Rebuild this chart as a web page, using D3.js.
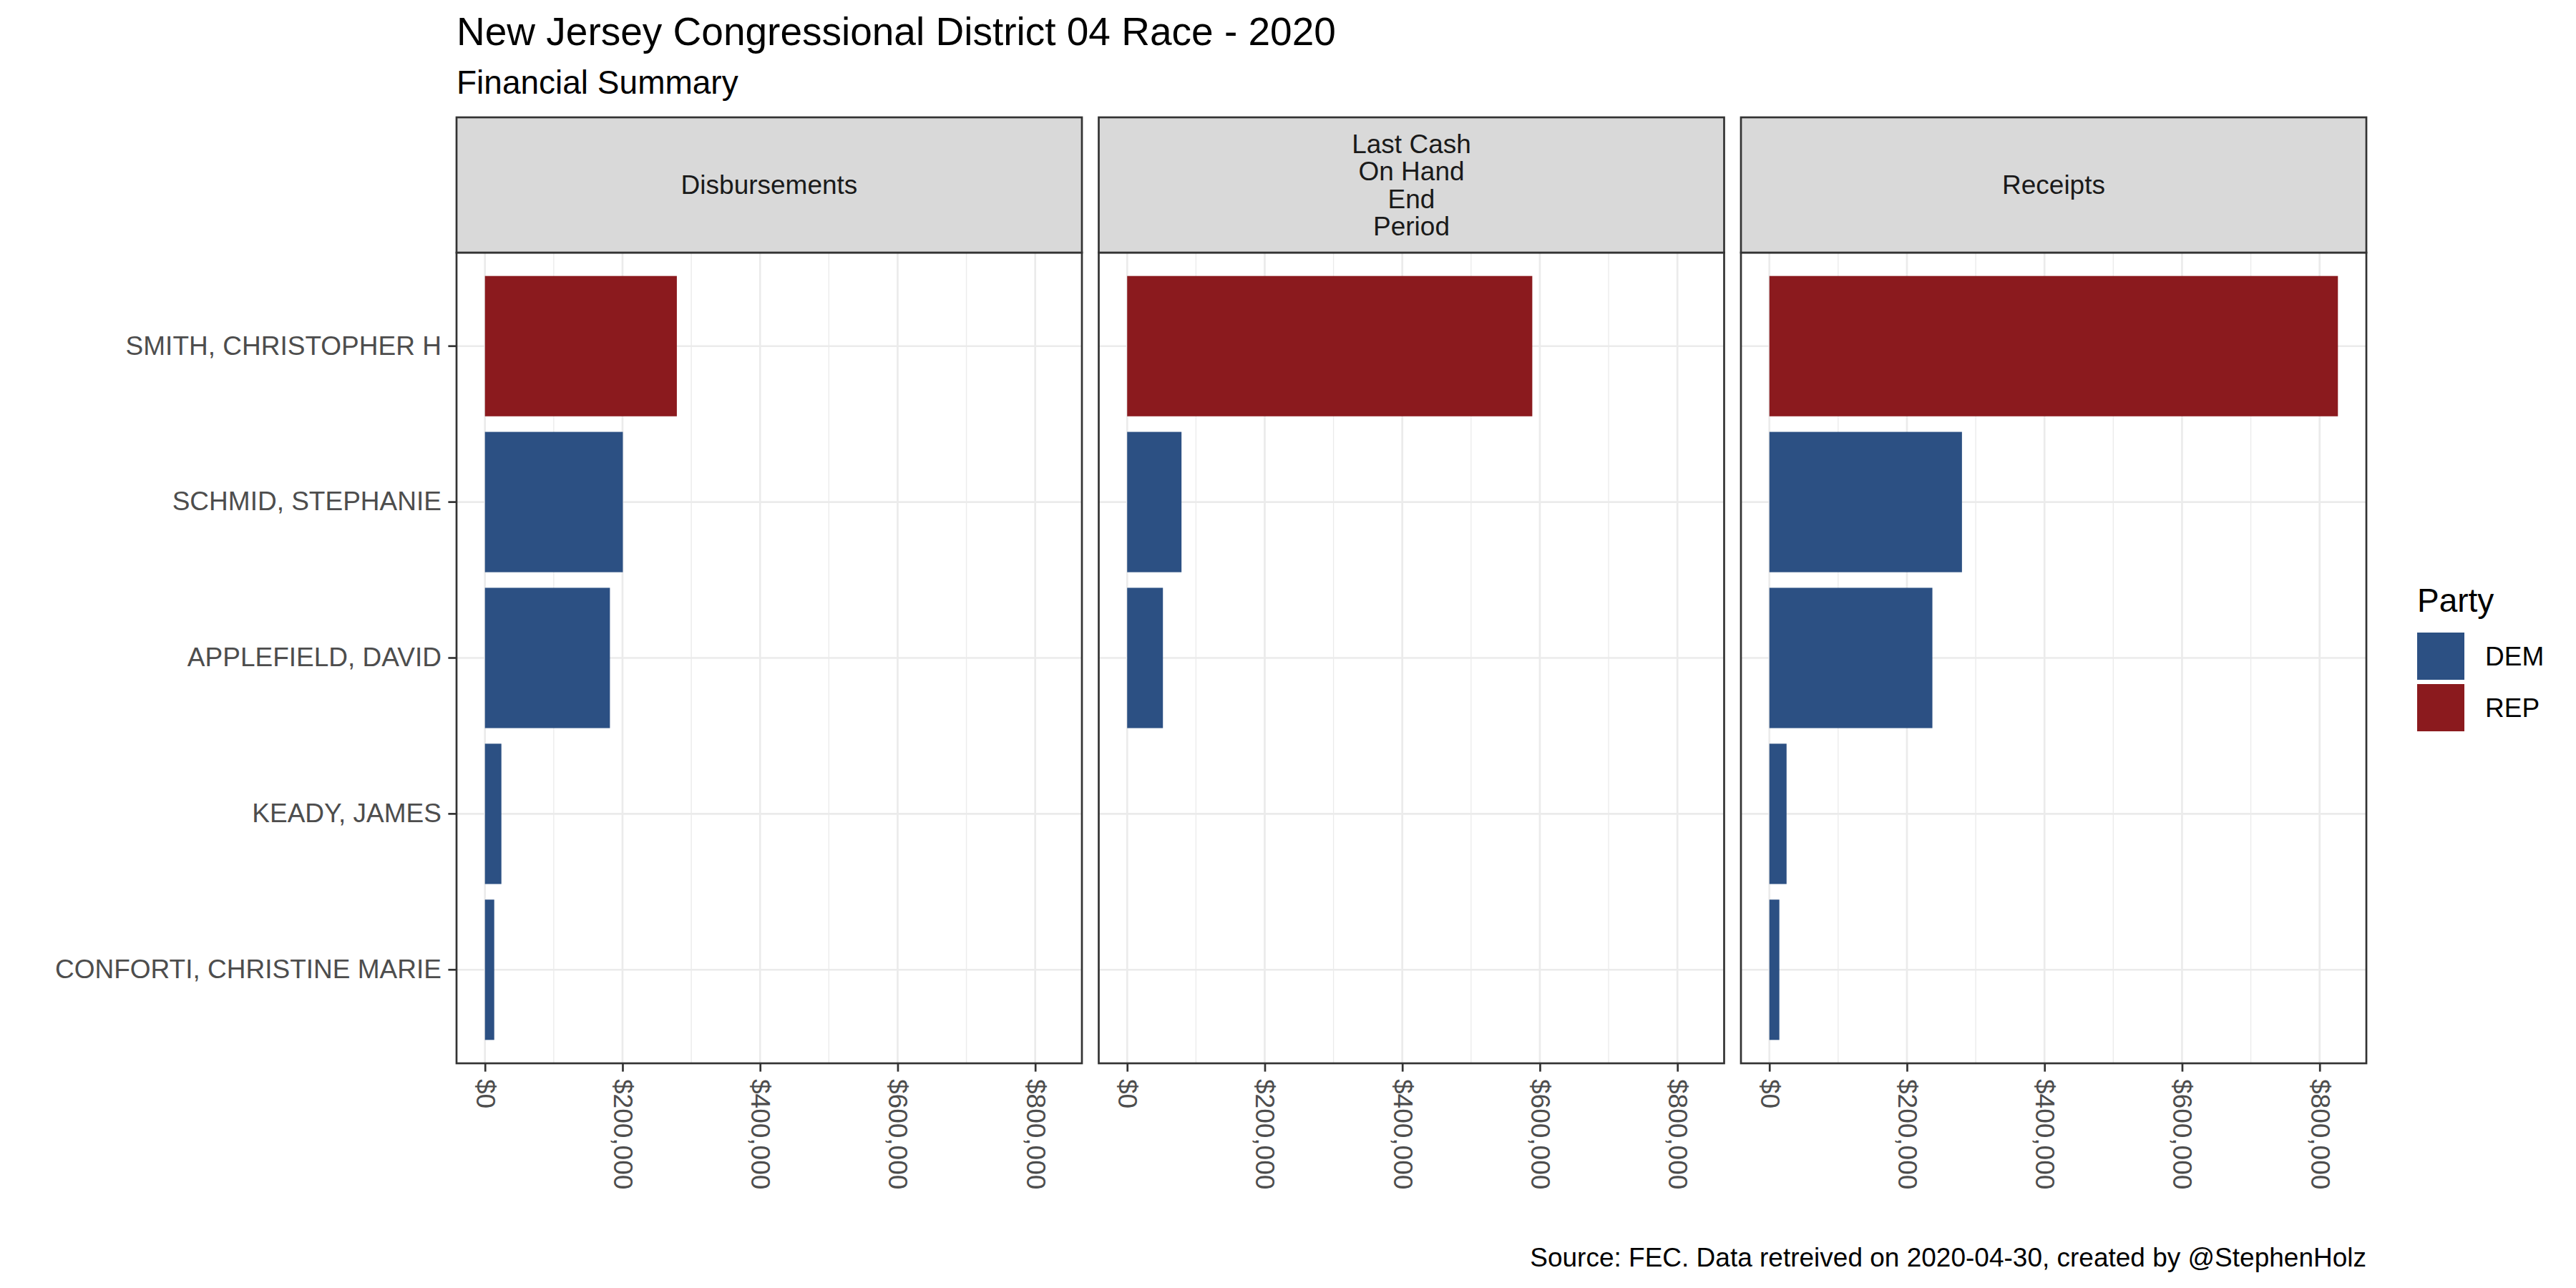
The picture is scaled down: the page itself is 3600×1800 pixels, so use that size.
<!DOCTYPE html>
<html>
<head>
<meta charset="utf-8">
<script src="https://cdn.jsdelivr.net/npm/d3@7"></script>
<style>
  body { margin: 0; background: #fff; }
  text { font-family: "Liberation Sans", Arial, sans-serif; }
</style>
</head>
<body>
<svg id="chart"></svg>
<script>
// data
const candidates = ["SMITH, CHRISTOPHER H", "SCHMID, STEPHANIE", "APPLEFIELD, DAVID", "KEADY, JAMES", "CONFORTI, CHRISTINE MARIE"];
const candidateParty = ["REP", "DEM", "DEM", "DEM", "DEM"];
const facetLabels = ["Disbursements", "Last Cash\nOn Hand\nEnd\nPeriod", "Receipts"];
const disbursements = [279000, 200500, 181700, 23900, 13500];
const cashOnHand = [589000, 79000, 52000, 0, 0];
const receipts = [826600, 280000, 237000, 25000, 14500];
const xTicks = [0, 200000, 400000, 600000, 800000];
const xMinorTicks = [100000, 300000, 500000, 700000];
const parties = ["DEM", "REP"];
const partyColors = ["#2C5083", "#8B1A1E"];

const width = 3600, height = 1800;
const svg = d3.select("#chart").attr("width", width).attr("height", height);

const panelLeft = 638, panelW = 874, panelGap = 23.5;
const stripTop = 164, stripBottom = 353, panelBottom = 1486;
const lineW = 2.7, tickLen = 11.6;
const grid = "#EBEBEB", dark = "#333333";

const facetValues = [disbursements, cashOnHand, receipts];
const maxVal = d3.max(facetValues.flat());

const x = d3.scaleLinear()
    .domain([-0.05 * maxVal, 1.05 * maxVal])
    .range([0, panelW]);

const y = d3.scaleBand()
    .domain(candidates)
    .range([stripBottom, panelBottom])
    .paddingInner(0.1)
    .paddingOuter(0.15);

const color = d3.scaleOrdinal().domain(parties).range(partyColors);

facetValues.forEach((vals, i) => {
  const g = svg.append("g")
      .attr("transform", `translate(${panelLeft + i * (panelW + panelGap)},0)`);

  // gridlines
  g.selectAll(".minor").data(xMinorTicks).enter().append("line")
      .attr("x1", d => x(d)).attr("x2", d => x(d))
      .attr("y1", stripBottom).attr("y2", panelBottom)
      .attr("stroke", grid).attr("stroke-width", lineW / 2);
  g.selectAll(".major").data(xTicks).enter().append("line")
      .attr("x1", d => x(d)).attr("x2", d => x(d))
      .attr("y1", stripBottom).attr("y2", panelBottom)
      .attr("stroke", grid).attr("stroke-width", lineW);
  g.selectAll(".hgrid").data(candidates).enter().append("line")
      .attr("x1", 0).attr("x2", panelW)
      .attr("y1", d => y(d) + y.bandwidth() / 2).attr("y2", d => y(d) + y.bandwidth() / 2)
      .attr("stroke", grid).attr("stroke-width", lineW);

  // bars
  g.selectAll(".bar").data(candidates).enter().append("rect")
      .attr("x", x(0))
      .attr("y", d => y(d))
      .attr("width", (d, j) => x(vals[j]) - x(0))
      .attr("height", y.bandwidth())
      .attr("fill", (d, j) => color(candidateParty[j]));

  // panel border
  g.append("rect")
      .attr("x", 0).attr("y", stripBottom)
      .attr("width", panelW).attr("height", panelBottom - stripBottom)
      .attr("fill", "none").attr("stroke", dark).attr("stroke-width", lineW);

  // strip
  g.append("rect")
      .attr("x", 0).attr("y", stripTop)
      .attr("width", panelW).attr("height", stripBottom - stripTop)
      .attr("fill", "#D9D9D9").attr("stroke", dark).attr("stroke-width", lineW);
  const lines = facetLabels[i].split("\n");
  const lh = 38.5;
  const mid = (stripTop + stripBottom) / 2;
  g.append("text")
      .attr("text-anchor", "middle")
      .attr("font-size", 37)
      .attr("fill", "#1A1A1A")
      .selectAll("tspan").data(lines).enter().append("tspan")
      .attr("x", panelW / 2)
      .attr("y", (d, k) => mid + (k - (lines.length - 1) / 2) * lh)
      .attr("dy", "0.35em")
      .text(d => d);

  // x axis
  const ax = g.append("g")
      .attr("transform", `translate(0,${panelBottom})`)
      .call(d3.axisBottom(x).tickValues(xTicks).tickFormat(d3.format("$,.0f")).tickSize(tickLen));
  ax.select(".domain").remove();
  ax.selectAll(".tick line").attr("stroke", dark).attr("stroke-width", lineW);
  ax.selectAll(".tick text")
      .attr("font-size", 37)
      .attr("fill", "#4D4D4D")
      .attr("y", 0).attr("x", 0).attr("dy", null)
      .attr("text-anchor", "start")
      .attr("dominant-baseline", "central")
      .attr("transform", "translate(0,22) rotate(90)");

  // y axis on first panel only
  if (i === 0) {
    const ay = g.append("g")
        .call(d3.axisLeft(y).tickSize(tickLen).tickPadding(9.5));
    ay.select(".domain").remove();
    ay.selectAll(".tick line").attr("stroke", dark).attr("stroke-width", lineW);
    ay.selectAll(".tick text").attr("font-size", 37).attr("fill", "#4D4D4D");
  }
});

// titles
svg.append("text").attr("x", panelLeft).attr("y", 63)
    .attr("font-size", 55).attr("fill", "#000")
    .text("New Jersey Congressional District 04 Race - 2020");
svg.append("text").attr("x", panelLeft).attr("y", 131)
    .attr("font-size", 46).attr("fill", "#000")
    .text("Financial Summary");
svg.append("text").attr("x", panelLeft + 3 * panelW + 2 * panelGap).attr("y", 1770)
    .attr("text-anchor", "end")
    .attr("font-size", 37).attr("fill", "#000")
    .text("Source: FEC. Data retreived on 2020-04-30, created by @StephenHolz");

// legend
const legend = svg.append("g").attr("transform", "translate(3378,0)");
legend.append("text").attr("x", 0).attr("y", 855)
    .attr("font-size", 46).attr("fill", "#000").text("Party");
const keys = legend.selectAll(".key").data(parties).enter().append("g")
    .attr("transform", (d, k) => `translate(0,${884 + k * 72})`);
keys.append("rect").attr("width", 66).attr("height", 66).attr("fill", d => color(d));
keys.append("text").attr("x", 95).attr("y", 33).attr("dy", "0.35em")
    .attr("font-size", 37).attr("fill", "#000").text(d => d);
</script>
</body>
</html>
